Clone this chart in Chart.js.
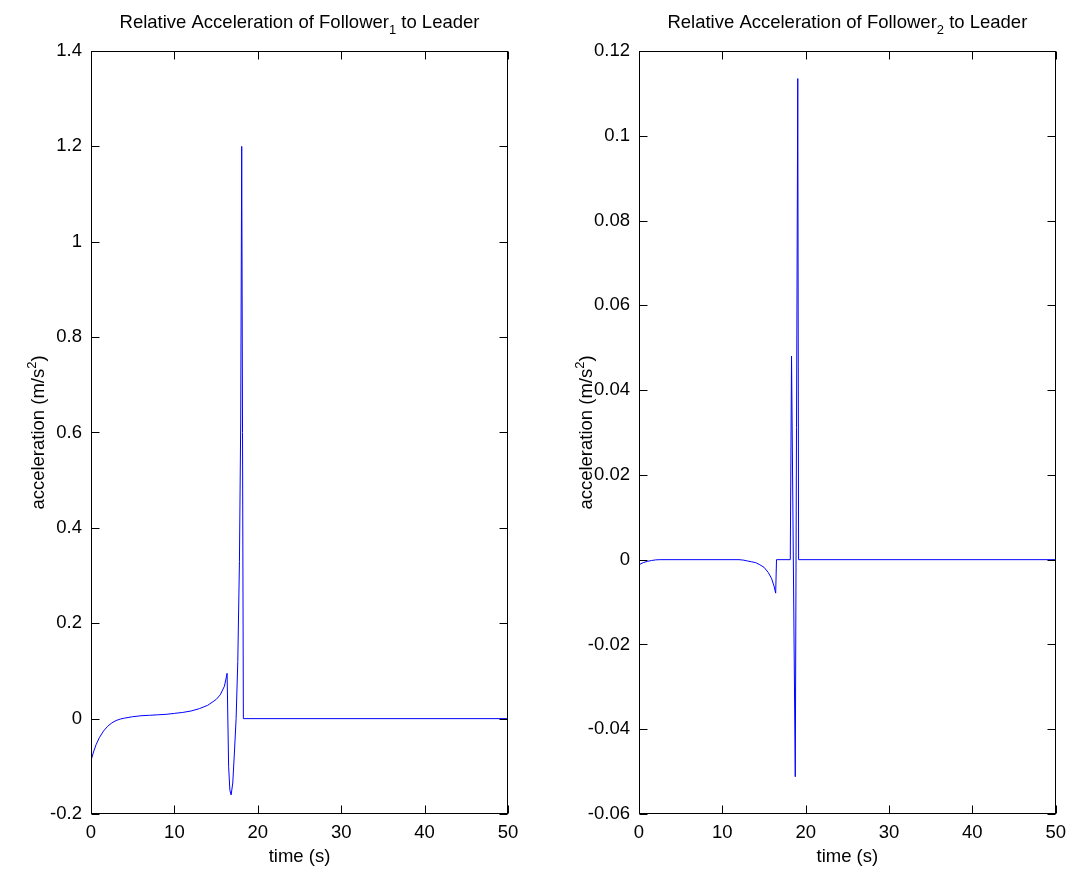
<!DOCTYPE html>
<html>
<head>
<meta charset="utf-8">
<script src="https://cdn.jsdelivr.net/npm/chart.js@4.4.0/dist/chart.umd.min.js"></script>
<style>
  html, body { margin: 0; padding: 0; background: #fff; }
  #wrap { position: relative; width: 1074px; height: 879px; }
  .pane { position: absolute; top: 0; width: 537px; height: 879px; }
</style>
</head>
<body>
<div id="wrap">
  <div class="pane" style="left:0"><canvas id="c1" width="537" height="879"></canvas></div>
  <div class="pane" style="left:537px"><canvas id="c2" width="537" height="879"></canvas></div>
</div>
<script>
// time samples and relative acceleration
const tLeft = [0, 0.3, 0.6, 1, 1.5, 2, 2.5, 3, 3.5, 4, 5, 6, 7, 8, 9, 10, 11, 12, 13, 14, 15, 15.5, 16, 16.32,
  16.5, 16.65, 16.8, 17, 17.2, 17.4, 17.6, 17.8, 17.95, 18.07, 18.27, 50];
const accLeft = [-0.088, -0.07, -0.055, -0.04, -0.026, -0.016, -0.009, -0.004, -0.001, 0.001, 0.004, 0.006, 0.007,
  0.008, 0.009, 0.011, 0.013, 0.016, 0.021, 0.028, 0.04, 0.05, 0.068, 0.095,
  -0.1, -0.15, -0.16, -0.135, -0.07, 0, 0.12, 0.33, 0.62, 1.2, 0, 0];

const tRight = [0, 0.5, 1, 1.5, 2, 2.5, 12, 12.5, 13, 13.5, 14, 14.5, 15, 15.5, 15.9, 16.2, 16.4, 16.5,
  18.15, 18.3, 18.75, 19.05, 19.15, 50];
const accRight = [-0.0012, -0.0007, -0.0004, -0.0002, -0.00005, 0, 0, -0.0001, -0.0003, -0.0005, -0.0007, -0.0012,
  -0.0018, -0.003, -0.0044, -0.0062, -0.0079, 0, 0, 0.048, -0.0512, 0.1135, 0, 0];

const xTicks = [0, 10, 20, 30, 40, 50];
const yTicksLeft = [-0.2, 0, 0.2, 0.4, 0.6, 0.8, 1, 1.2, 1.4];
const yLabelsLeft = ['-0.2', '0', '0.2', '0.4', '0.6', '0.8', '1', '1.2', '1.4'];
const yTicksRight = [-0.06, -0.04, -0.02, 0, 0.02, 0.04, 0.06, 0.08, 0.1, 0.12];
const yLabelsRight = ['-0.06', '-0.04', '-0.02', '0', '0.02', '0.04', '0.06', '0.08', '0.1', '0.12'];

const FONT = "'Liberation Sans', Arial, Helvetica, sans-serif";
const FS = 18.5;

// draw text with sub/superscript pieces: parts = [[text, 'sub'|'sup'|null], ...]
function richText(ctx, parts, x, y) {
  const small = FS * 0.7;
  let w = 0;
  parts.forEach(([s, k]) => {
    ctx.font = (k ? small : FS) + 'px ' + FONT;
    w += ctx.measureText(s).width;
  });
  let cx = x - w / 2;
  parts.forEach(([s, k]) => {
    ctx.font = (k ? small : FS) + 'px ' + FONT;
    const dy = k === 'sub' ? 6 : k === 'sup' ? -8 : 0;
    ctx.fillText(s, cx, y + dy);
    cx += ctx.measureText(s).width;
  });
}

const matlabAxes = {
  id: 'matlabAxes',
  afterDraw(chart, args, opts) {
    const { ctx, chartArea: a, scales: { x, y } } = chart;
    const L = Math.round(a.left) + 0.5, R = Math.round(a.right) - 0.5;
    const T = Math.round(a.top) + 0.5, B = Math.round(a.bottom) - 0.5;
    const tl = 8;
    ctx.save();
    ctx.strokeStyle = '#000';
    ctx.lineWidth = 1;
    ctx.strokeRect(L, T, R - L, B - T);
    ctx.beginPath();
    x.ticks.forEach(tk => {
      const px = Math.round(x.getPixelForValue(tk.value)) + 0.5;
      ctx.moveTo(px, B); ctx.lineTo(px, B - tl);
      ctx.moveTo(px, T); ctx.lineTo(px, T + tl);
    });
    y.ticks.forEach(tk => {
      const py = Math.round(y.getPixelForValue(tk.value)) + 0.5;
      ctx.moveTo(L, py); ctx.lineTo(L + tl, py);
      ctx.moveTo(R, py); ctx.lineTo(R - tl, py);
    });
    ctx.stroke();

    ctx.fillStyle = '#000';
    ctx.textBaseline = 'alphabetic';
    ctx.textAlign = 'left';
    const cx = (a.left + a.right) / 2;
    richText(ctx, opts.title, cx, 28);
    richText(ctx, [['time (s)', null]], cx, 862);
    ctx.translate(a.left - 47, (a.top + a.bottom) / 2);
    ctx.rotate(-Math.PI / 2);
    richText(ctx, [['acceleration (m/s', null], ['2', 'sup'], [')', null]], 0, 0);
    ctx.restore();
  }
};

function makeChart(id, tv, av, yTicks, yLabels, yMin, yMax, pad, title) {
  const tickFont = { family: FONT, size: FS };
  return new Chart(document.getElementById(id), {
    type: 'line',
    data: {
      datasets: [{
        data: tv.map((t, i) => ({ x: t, y: av[i] })),
        borderColor: '#0000ff',
        borderWidth: 1,
        pointRadius: 0,
        tension: 0,
        fill: false
      }]
    },
    options: {
      responsive: false,
      animation: false,
      events: [],
      layout: { padding: { left: 0, right: pad.right, top: 51, bottom: 0 } },
      plugins: { legend: { display: false }, tooltip: { enabled: false }, matlabAxes: { title } },
      scales: {
        x: {
          type: 'linear', min: 0, max: 50,
          afterBuildTicks: s => { s.ticks = xTicks.map(v => ({ value: v })); },
          afterFit: s => { s.height = 65; },
          grid: { display: false, drawTicks: false },
          border: { display: false },
          ticks: { font: tickFont, color: '#000', padding: 8, maxRotation: 0, autoSkip: false, callback: v => String(v) }
        },
        y: {
          type: 'linear', min: yMin, max: yMax,
          afterBuildTicks: s => { s.ticks = yTicks.map(v => ({ value: v })); },
          afterFit: s => { s.width = pad.left; },
          grid: { display: false, drawTicks: false },
          border: { display: false },
          ticks: { font: tickFont, color: '#000', padding: 9, autoSkip: false,
            callback: v => yLabels[yTicks.indexOf(v)] }
        }
      }
    },
    plugins: [matlabAxes]
  });
}

makeChart('c1', tLeft, accLeft, yTicksLeft, yLabelsLeft, -0.2, 1.4, { left: 91, right: 29 },
  [['Relative Acceleration of Follower', null], ['1', 'sub'], [' to Leader', null]]);
makeChart('c2', tRight, accRight, yTicksRight, yLabelsRight, -0.06, 0.12, { left: 102, right: 18 },
  [['Relative Acceleration of Follower', null], ['2', 'sub'], [' to Leader', null]]);
</script>
</body>
</html>
